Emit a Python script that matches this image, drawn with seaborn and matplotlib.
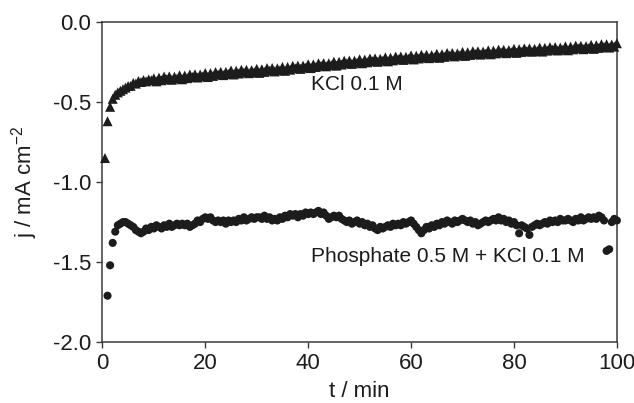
import matplotlib

matplotlib.use("Agg")
import matplotlib.pyplot as plt
import pandas as pd
import seaborn as sns
from matplotlib.ticker import FormatStrFormatter

# sampling times (min), one reading every 0.5 min
t_min = [
    0.5, 1.0, 1.5, 2.0, 2.5, 3.0, 3.5, 4.0, 4.5, 5.0,
    5.5, 6.0, 6.5, 7.0, 7.5, 8.0, 8.5, 9.0, 9.5, 10.0,
    10.5, 11.0, 11.5, 12.0, 12.5, 13.0, 13.5, 14.0, 14.5, 15.0,
    15.5, 16.0, 16.5, 17.0, 17.5, 18.0, 18.5, 19.0, 19.5, 20.0,
    20.5, 21.0, 21.5, 22.0, 22.5, 23.0, 23.5, 24.0, 24.5, 25.0,
    25.5, 26.0, 26.5, 27.0, 27.5, 28.0, 28.5, 29.0, 29.5, 30.0,
    30.5, 31.0, 31.5, 32.0, 32.5, 33.0, 33.5, 34.0, 34.5, 35.0,
    35.5, 36.0, 36.5, 37.0, 37.5, 38.0, 38.5, 39.0, 39.5, 40.0,
    40.5, 41.0, 41.5, 42.0, 42.5, 43.0, 43.5, 44.0, 44.5, 45.0,
    45.5, 46.0, 46.5, 47.0, 47.5, 48.0, 48.5, 49.0, 49.5, 50.0,
    50.5, 51.0, 51.5, 52.0, 52.5, 53.0, 53.5, 54.0, 54.5, 55.0,
    55.5, 56.0, 56.5, 57.0, 57.5, 58.0, 58.5, 59.0, 59.5, 60.0,
    60.5, 61.0, 61.5, 62.0, 62.5, 63.0, 63.5, 64.0, 64.5, 65.0,
    65.5, 66.0, 66.5, 67.0, 67.5, 68.0, 68.5, 69.0, 69.5, 70.0,
    70.5, 71.0, 71.5, 72.0, 72.5, 73.0, 73.5, 74.0, 74.5, 75.0,
    75.5, 76.0, 76.5, 77.0, 77.5, 78.0, 78.5, 79.0, 79.5, 80.0,
    80.5, 81.0, 81.5, 82.0, 82.5, 83.0, 83.5, 84.0, 84.5, 85.0,
    85.5, 86.0, 86.5, 87.0, 87.5, 88.0, 88.5, 89.0, 89.5, 90.0,
    90.5, 91.0, 91.5, 92.0, 92.5, 93.0, 93.5, 94.0, 94.5, 95.0,
    95.5, 96.0, 96.5, 97.0, 97.5, 98.0, 98.5, 99.0, 99.5, 100.0,
]

# KCl 0.1 M, j in mA cm-2
j_kcl = [
    -0.85, -0.62, -0.53, -0.48, -0.455, -0.44, -0.43, -0.42, -0.41, -0.40,
    -0.399, -0.381, -0.385, -0.369, -0.375, -0.363, -0.371, -0.359, -0.364, -0.352,
    -0.371, -0.348, -0.364, -0.341, -0.358, -0.340, -0.361, -0.342, -0.354, -0.333,
    -0.358, -0.335, -0.351, -0.328, -0.344, -0.327, -0.347, -0.328, -0.340, -0.319,
    -0.344, -0.320, -0.337, -0.313, -0.329, -0.312, -0.332, -0.312, -0.325, -0.303,
    -0.328, -0.305, -0.322, -0.299, -0.316, -0.299, -0.320, -0.301, -0.314, -0.293,
    -0.318, -0.295, -0.312, -0.288, -0.305, -0.288, -0.309, -0.290, -0.302, -0.281,
    -0.305, -0.281, -0.298, -0.274, -0.290, -0.273, -0.293, -0.273, -0.286, -0.264,
    -0.288, -0.265, -0.281, -0.258, -0.274, -0.257, -0.277, -0.258, -0.270, -0.248,
    -0.273, -0.249, -0.266, -0.242, -0.259, -0.241, -0.262, -0.242, -0.255, -0.233,
    -0.258, -0.235, -0.252, -0.228, -0.245, -0.228, -0.249, -0.230, -0.242, -0.221,
    -0.246, -0.223, -0.240, -0.216, -0.233, -0.216, -0.237, -0.218, -0.230, -0.209,
    -0.234, -0.211, -0.228, -0.205, -0.222, -0.205, -0.226, -0.207, -0.220, -0.199,
    -0.224, -0.201, -0.218, -0.194, -0.211, -0.194, -0.215, -0.196, -0.208, -0.187,
    -0.212, -0.189, -0.206, -0.183, -0.200, -0.183, -0.204, -0.185, -0.198, -0.177,
    -0.202, -0.179, -0.196, -0.173, -0.190, -0.174, -0.195, -0.176, -0.189, -0.168,
    -0.193, -0.170, -0.187, -0.165, -0.182, -0.165, -0.186, -0.168, -0.181, -0.160,
    -0.185, -0.162, -0.179, -0.157, -0.174, -0.157, -0.178, -0.160, -0.173, -0.152,
    -0.177, -0.154, -0.171, -0.148, -0.165, -0.149, -0.170, -0.151, -0.164, -0.143,
    -0.168, -0.145, -0.162, -0.139, -0.156, -0.139, -0.160, -0.141, -0.154, -0.133,
]

# Phosphate 0.5 M + KCl 0.1 M, starts at t = 1.0 min
j_phosphate = [
    -1.71, -1.52, -1.38, -1.31, -1.27, -1.26, -1.25, -1.25, -1.26,
    -1.27, -1.28, -1.30, -1.31, -1.32, -1.31, -1.29, -1.30, -1.28, -1.29,
    -1.27, -1.28, -1.29, -1.27, -1.28, -1.26, -1.28, -1.27, -1.26, -1.27,
    -1.26, -1.27, -1.26, -1.28, -1.27, -1.26, -1.24, -1.25, -1.23, -1.22,
    -1.23, -1.22, -1.24, -1.25, -1.24, -1.25, -1.24, -1.26, -1.24, -1.25,
    -1.24, -1.25, -1.23, -1.24, -1.22, -1.24, -1.23, -1.22, -1.23, -1.22,
    -1.22, -1.23, -1.21, -1.23, -1.22, -1.24, -1.23, -1.24, -1.22, -1.23,
    -1.21, -1.22, -1.20, -1.21, -1.20, -1.22, -1.20, -1.21, -1.19, -1.20,
    -1.19, -1.20, -1.19, -1.18, -1.20, -1.19, -1.21, -1.23, -1.22, -1.21,
    -1.22, -1.21, -1.23, -1.24, -1.25, -1.24, -1.26, -1.25, -1.24, -1.26,
    -1.25, -1.27, -1.26, -1.28, -1.27, -1.29, -1.30, -1.28, -1.29, -1.28,
    -1.27, -1.28, -1.26, -1.27, -1.26, -1.27, -1.25, -1.26, -1.25, -1.24,
    -1.26, -1.28, -1.30, -1.32, -1.30, -1.28, -1.29, -1.27, -1.28, -1.26,
    -1.27, -1.25, -1.26, -1.24, -1.25, -1.26, -1.24, -1.25, -1.24, -1.23,
    -1.24, -1.25, -1.24, -1.26, -1.25, -1.27, -1.26, -1.25, -1.24, -1.25,
    -1.24, -1.23, -1.24, -1.22, -1.24, -1.23, -1.25, -1.24, -1.26, -1.25,
    -1.27, -1.32, -1.27, -1.28, -1.29, -1.33, -1.28, -1.27, -1.26, -1.27,
    -1.26, -1.25, -1.26, -1.24, -1.25, -1.24, -1.25, -1.23, -1.24, -1.24,
    -1.23, -1.24, -1.25, -1.23, -1.24, -1.22, -1.24, -1.23, -1.22, -1.23,
    -1.22, -1.23, -1.21, -1.22, -1.24, -1.43, -1.42, -1.25, -1.23, -1.24,
]

x_ticks = [0, 20, 40, 60, 80, 100]
y_ticks = [0.0, -0.5, -1.0, -1.5, -2.0]

INK = "#1c1c1c"
AXIS_GREY = "#3a3a3a"


def main():
    sns.set_style("ticks")
    plt.rcParams["font.family"] = ["Liberation Sans", "DejaVu Sans"]
    plt.rcParams["mathtext.fontset"] = "custom"
    plt.rcParams["mathtext.rm"] = "Liberation Sans"
    plt.rcParams["axes.unicode_minus"] = False

    kcl = pd.DataFrame({"t": t_min, "j": j_kcl})
    phos = pd.DataFrame({"t": t_min[1:], "j": j_phosphate})

    fig = plt.figure(figsize=(6.34, 4.03), dpi=100)
    # axes box: x 102..617 px, y 22..342 px
    ax = fig.add_axes([0.1615, 0.151, 0.8115, 0.7945])

    sns.scatterplot(
        data=kcl, x="t", y="j", ax=ax, marker="^", s=52,
        color=INK, edgecolor="none", clip_on=False, zorder=3,
    )
    sns.scatterplot(
        data=phos, x="t", y="j", ax=ax, marker="o", s=34,
        color=INK, edgecolor="none", clip_on=False, zorder=3,
    )

    ax.set_xlim(0, 100)
    ax.set_ylim(-2.0, 0.0)
    ax.set_xticks(x_ticks)
    ax.set_yticks(y_ticks)
    ax.yaxis.set_major_formatter(FormatStrFormatter("%.1f"))

    ax.set_xlabel("t / min", fontsize=16, color=INK, labelpad=5)
    ax.set_ylabel(r"j / mA cm$^{\mathregular{-2}}$", fontsize=16, color=INK, labelpad=9)

    ax.tick_params(axis="both", direction="out", length=4, width=1.0,
                   colors=AXIS_GREY, labelcolor=INK, labelsize=16, pad=4)
    for side in ["top", "right", "bottom", "left"]:
        ax.spines[side].set_visible(True)
        ax.spines[side].set_color(AXIS_GREY)
        ax.spines[side].set_linewidth(1.1)

    ax.text(49.5, -0.39, "KCl 0.1 M", fontsize=15, color=INK,
            ha="center", va="center")
    ax.text(67.2, -1.465, "Phosphate 0.5 M + KCl 0.1 M", fontsize=15,
            color=INK, ha="center", va="center")

    fig.savefig("out.png", dpi=100, facecolor="white")
    plt.close(fig)


if __name__ == "__main__":
    main()
